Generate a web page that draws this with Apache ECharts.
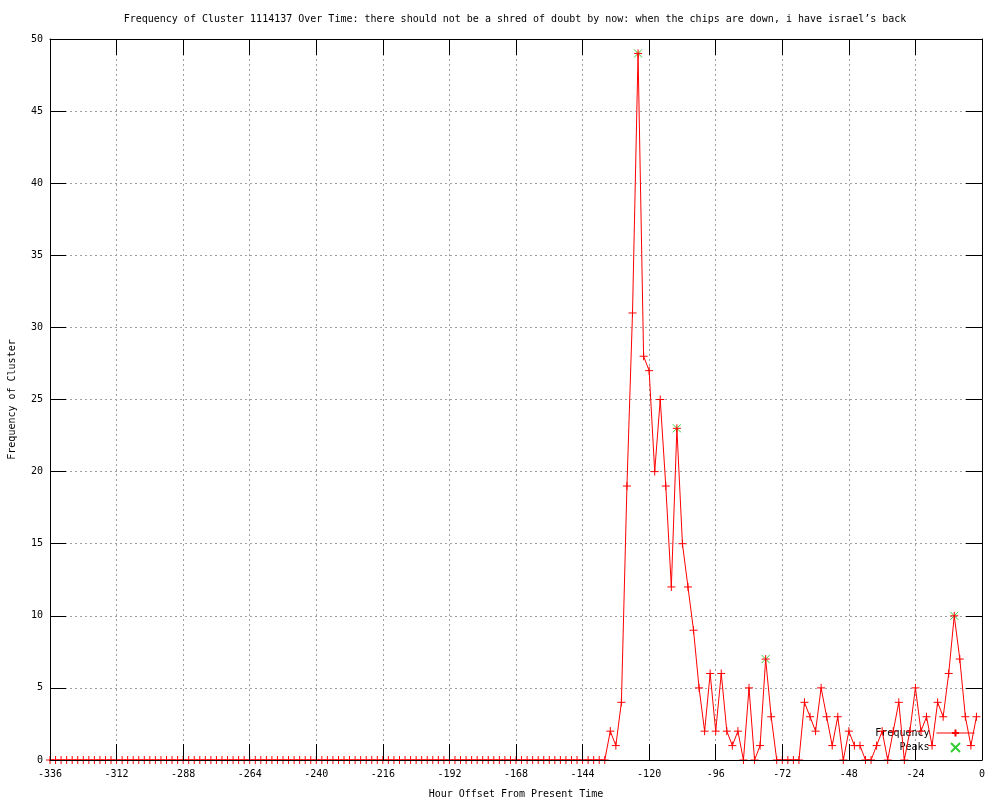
<!DOCTYPE html>
<html>
<head>
<meta charset="utf-8">
<script src="https://cdn.jsdelivr.net/npm/echarts@6/dist/echarts.min.js"></script>
<style>html,body{margin:0;padding:0;background:#fff}#c{width:1000px;height:800px}</style>
</head>
<body>
<div id="c"></div>
<script>
const titleText = "Frequency of Cluster 1114137 Over Time: there should not be a shred of doubt by now: when the chips are down, i have israel\u2019s back";
const xAxisName = "Hour Offset From Present Time";
const yAxisName = "Frequency of Cluster";

const hours = [
-336,-334,-332,-330,-328,-326,-324,-322,-320,-318,
-316,-314,-312,-310,-308,-306,-304,-302,-300,-298,
-296,-294,-292,-290,-288,-286,-284,-282,-280,-278,
-276,-274,-272,-270,-268,-266,-264,-262,-260,-258,
-256,-254,-252,-250,-248,-246,-244,-242,-240,-238,
-236,-234,-232,-230,-228,-226,-224,-222,-220,-218,
-216,-214,-212,-210,-208,-206,-204,-202,-200,-198,
-196,-194,-192,-190,-188,-186,-184,-182,-180,-178,
-176,-174,-172,-170,-168,-166,-164,-162,-160,-158,
-156,-154,-152,-150,-148,-146,-144,-142,-140,-138,
-136,
-134,-132,-130,-128,-126,-124,-122,-120,-118,-116,
-114,-112,-110,-108,-106,-104,-102,-100,-98,-96,
-94,-92,-90,-88,-86,-84,-82,-80,-78,-76,
-74,-72,-70,-68,-66,-64,-62,-60,-58,-56,
-54,-52,-50,-48,-46,-44,-42,-40,-38,-36,
-34,-32,-30,-28,-26,-24,-22,-20,-18,-16,
-14,-12,-10,-8,-6,-4,-2
];

const frequency = [
0,0,0,0,0,0,0,0,0,0,
0,0,0,0,0,0,0,0,0,0,
0,0,0,0,0,0,0,0,0,0,
0,0,0,0,0,0,0,0,0,0,
0,0,0,0,0,0,0,0,0,0,
0,0,0,0,0,0,0,0,0,0,
0,0,0,0,0,0,0,0,0,0,
0,0,0,0,0,0,0,0,0,0,
0,0,0,0,0,0,0,0,0,0,
0,0,0,0,0,0,0,0,0,0,
0,
2,1,4,19,31,49,28,27,20,25,
19,12,23,15,12,9,5,2,6,2,
6,2,1,2,0,5,0,1,7,3,
0,0,0,0,0,4,3,2,5,3,
1,3,0,2,1,1,0,0,1,2,
0,2,4,0,2,5,2,3,1,4,
3,6,10,7,3,1,3
];

const peakHours = [-124, -110, -78, -10];
const peakValues = [49, 23, 7, 10];

const FONT = "DejaVu Sans Mono";
const plusSym = 'path://M0,5L10,5M5,0L5,10';
const crossSym = 'path://M0,0L10,10M10,0L0,10';

const freqData = hours.map((h, i) => [h, frequency[i]]);
const peakData = peakHours.map((h, i) => [h, peakValues[i]]);

const chart = echarts.init(document.getElementById('c'), null, {renderer: 'canvas'});

const frameAxisX = (pos) => ({
  type: 'value', min: -336, max: 0, interval: 24, position: pos, z: 10,
  axisLine: {show: true, onZero: false, lineStyle: {color: '#000', width: 1}},
  axisTick: {show: true, inside: true, length: 16, lineStyle: {color: '#000'}},
  axisLabel: {show: false}, splitLine: {show: false}
});
const frameAxisY = (pos) => ({
  type: 'value', min: 0, max: 50, interval: 5, position: pos, z: 10,
  axisLine: {show: true, onZero: false, lineStyle: {color: '#000', width: 1}},
  axisTick: {show: true, inside: true, length: 16, lineStyle: {color: '#000'}},
  axisLabel: {show: false}, splitLine: {show: false}
});

chart.setOption({
  animation: false,
  backgroundColor: '#fff',
  title: {
    text: titleText, left: 510, textAlign: 'center', top: 9,
    textStyle: {fontFamily: FONT, fontSize: 10, fontWeight: 'normal', color: '#000'}
  },
  grid: {left: 50, right: 18, top: 39, bottom: 40, containLabel: false, outerBoundsMode: 'none'},
  legend: {
    data: ['Frequency', 'Peaks'],
    orient: 'vertical', right: 25, top: 728, align: 'right',
    itemWidth: 38, itemHeight: 9, itemGap: 4, padding: 0,
    lineStyle: {width: 1},
    textStyle: {fontFamily: FONT, fontSize: 10, color: '#000', padding: [0, 2, 0, 0]},
    selectedMode: false
  },
  xAxis: [
    {
      type: 'value', min: -336, max: 0, interval: 24, position: 'bottom', z: 0,
      name: xAxisName, nameLocation: 'middle', nameGap: 29,
      nameTextStyle: {fontFamily: FONT, fontSize: 10, color: '#000'},
      axisLine: {show: false}, axisTick: {show: false},
      axisLabel: {fontFamily: FONT, fontSize: 10, color: '#000', margin: 9},
      splitLine: {show: true, lineStyle: {color: '#a0a0a0', type: [2, 3], width: 1}}
    },
    frameAxisX('bottom'),
    frameAxisX('top')
  ],
  yAxis: [
    {
      type: 'value', min: 0, max: 50, interval: 5, position: 'left', z: 0,
      name: yAxisName, nameLocation: 'middle', nameGap: 33, nameRotate: 90,
      nameTextStyle: {fontFamily: FONT, fontSize: 10, color: '#000'},
      axisLine: {show: false}, axisTick: {show: false},
      axisLabel: {fontFamily: FONT, fontSize: 10, color: '#000', margin: 7},
      splitLine: {show: true, lineStyle: {color: '#a0a0a0', type: [2, 3], width: 1}}
    },
    frameAxisY('left'),
    frameAxisY('right')
  ],
  series: [
    {
      name: 'Peaks', type: 'scatter', xAxisIndex: 0, yAxisIndex: 0,
      data: peakData, symbol: crossSym, symbolSize: 8, z: 3,
      itemStyle: {color: '#00c000', borderColor: '#00c000', borderWidth: 1},
      emphasis: {disabled: true}
    },
    {
      name: 'Frequency', type: 'line', xAxisIndex: 0, yAxisIndex: 0,
      data: freqData, symbol: plusSym, symbolSize: 8, showAllSymbol: true, z: 4,
      lineStyle: {color: '#ff0000', width: 1},
      itemStyle: {color: '#ff0000', borderColor: '#ff0000', borderWidth: 1},
      emphasis: {disabled: true}
    }
  ]
});
</script>
</body>
</html>
